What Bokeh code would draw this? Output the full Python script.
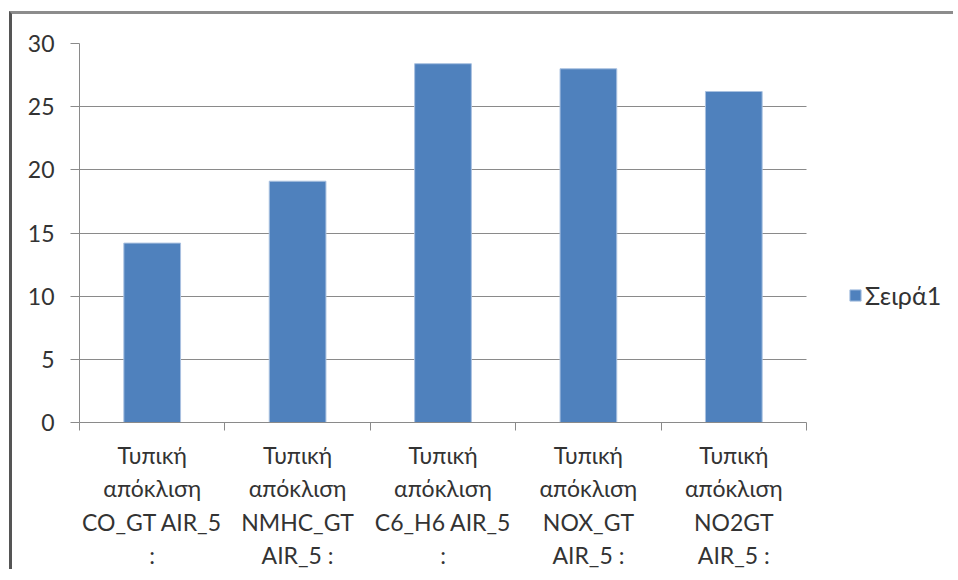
import numpy as np
from bokeh.plotting import figure
from bokeh.models import (Range1d, FixedTicker, Legend, LegendItem, ColumnDataSource)
from bokeh.embed import file_html
from bokeh.resources import INLINE

categories = [
    "Τυπική\nαπόκλιση\nCO_GT AIR_5\n:",
    "Τυπική\nαπόκλιση\nNMHC_GT\nAIR_5 :",
    "Τυπική\nαπόκλιση\nC6_H6 AIR_5\n:",
    "Τυπική\nαπόκλιση\nNOX_GT\nAIR_5 :",
    "Τυπική\nαπόκλιση\nNO2GT\nAIR_5 :",
]
values = [14.2, 19.1, 28.4, 28.0, 26.2]
series_name = "Σειρά1"
y_ticks = [0, 5, 10, 15, 20, 25, 30]

FONT = "Lato"
TEXT = "#333333"
GRID = "#8a8a8a"
BAR = "#4F81BD"

n = len(categories)
centers = list(np.arange(n) + 0.5)
bounds = list(np.arange(n + 1).astype(float))

# layout: plot area spans 727 px for the categories; the frame continues to the
# right to hold the legend (grid and axis are bounded to the category span)
W, H = 944, 558
LEFT, TOP, BOTTOM = 67, 29, 149
cat_px = 727.0
x_end = n * (W - LEFT) / cat_px

src = ColumnDataSource(dict(x=centers, top=values))

p = figure(width=W, height=H, output_backend="svg", toolbar_location=None,
           x_range=Range1d(0, x_end), y_range=Range1d(0, 30),
           min_border_left=LEFT, min_border_top=TOP, min_border_right=0,
           min_border_bottom=BOTTOM)
p.styles = {"border-left": "3px solid #555555", "border-top": "3px solid #8c8c8c",
            "margin-left": "9px", "margin-top": "11px"}
p.outline_line_color = None
p.background_fill_color = "white"
p.border_fill_color = "white"

r = p.vbar(x="x", top="top", width=0.39, bottom=0, source=src,
           fill_color=BAR, line_color="#a9c1e0", line_width=1)

# x axis
xa = p.xaxis[0]
xa.bounds = (0, n)
xa.ticker = FixedTicker(ticks=centers, minor_ticks=bounds)
xa.major_label_overrides = {c: lab for c, lab in zip(centers, categories)}
xa.major_tick_out = 0
xa.major_tick_in = 0
xa.minor_tick_out = 8
xa.minor_tick_in = 0
xa.minor_tick_line_color = GRID
xa.axis_line_color = GRID
xa.major_label_text_font = FONT
xa.major_label_text_font_size = "23px"
xa.major_label_text_color = TEXT
xa.major_label_text_line_height = 1.2
xa.major_label_standoff = 10
xa.major_label_orientation = "horizontal"

# y axis
ya = p.yaxis[0]
ya.ticker = FixedTicker(ticks=y_ticks)
ya.major_tick_out = 9
ya.major_tick_in = 0
ya.minor_tick_line_color = None
ya.major_tick_line_color = GRID
ya.axis_line_color = GRID
ya.major_label_text_font = FONT
ya.major_label_text_font_size = "23px"
ya.major_label_text_color = TEXT
ya.major_label_standoff = 16

p.xgrid.grid_line_color = None
p.ygrid.grid_line_color = GRID
p.ygrid.grid_line_width = 1
p.ygrid.cross_bounds = (0, n)

legend = Legend(items=[LegendItem(label=series_name, renderers=[r])],
                location=(769, 112), orientation="vertical",
                border_line_color=None, background_fill_alpha=0,
                padding=0, margin=0, glyph_width=14, glyph_height=14,
                label_standoff=3, label_text_font=FONT,
                label_text_font_size="25px", label_text_color=TEXT)
p.add_layout(legend, "center")

open("out.html", "w").write(file_html(p, INLINE))
